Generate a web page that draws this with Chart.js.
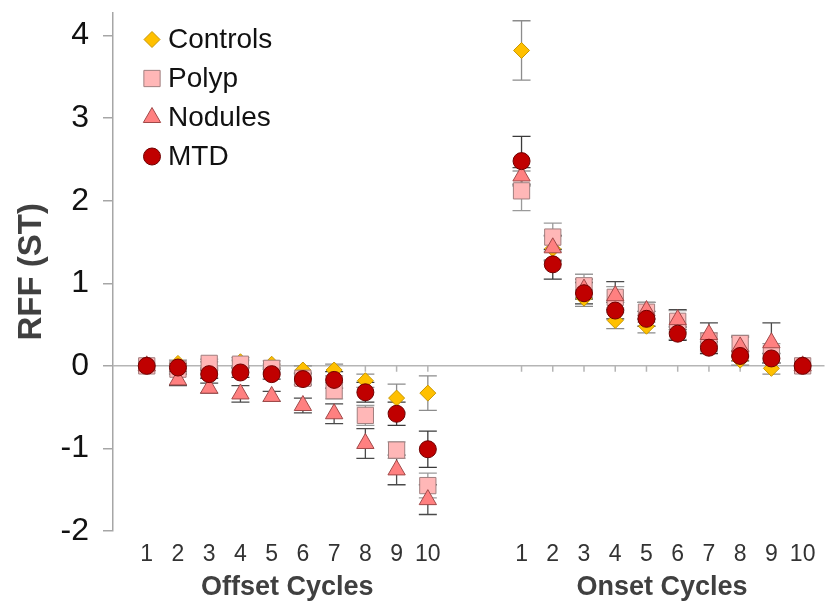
<!DOCTYPE html>
<html>
<head>
<meta charset="utf-8">
<script src="https://cdn.jsdelivr.net/npm/chart.js@4/dist/chart.umd.min.js"></script>
<style>
  html, body { margin: 0; padding: 0; background: #fff; }
  #wrap { width: 837px; height: 602px; }
</style>
</head>
<body>
<div id="wrap"><canvas id="jsRffCanvas" width="837" height="602"></canvas></div>
<script>
// cycle labels and x positions (onset block sits after a gap)
const cycleLabels = ["1", "2", "3", "4", "5", "6", "7", "8", "9", "10"];
const offsetX = [1, 2, 3, 4, 5, 6, 7, 8, 9, 10];
const onsetX = [13, 14, 15, 16, 17, 18, 19, 20, 21, 22];
const yTicks = [-2, -1, 0, 1, 2, 3, 4];

// mean RFF (ST), offset cycles then onset cycles
const controlsOffset = [0, 0.03, 0.01, 0.05, 0.02, -0.05, -0.05, -0.18, -0.39, -0.33];
const controlsOnset = [3.82, 1.42, 0.82, 0.55, 0.48, 0.4, 0.25, 0.07, -0.03, 0];
const polypOffset = [0, -0.04, 0.03, 0.02, -0.03, -0.15, -0.3, -0.6, -1.02, -1.45];
const polypOnset = [2.12, 1.56, 0.97, 0.83, 0.65, 0.54, 0.3, 0.27, 0.15, 0];
const nodulesOffset = [0, -0.17, -0.27, -0.34, -0.37, -0.48, -0.58, -0.94, -1.26, -1.62];
const nodulesOnset = [2.3, 1.43, 0.93, 0.85, 0.67, 0.56, 0.38, 0.23, 0.28, 0];
const mtdOffset = [0, -0.02, -0.1, -0.08, -0.1, -0.16, -0.17, -0.32, -0.58, -1.01];
const mtdOnset = [2.48, 1.23, 0.88, 0.67, 0.57, 0.39, 0.22, 0.12, 0.09, 0];

// error bar half-lengths
const controlsErrOffset = [0, 0.04, 0.04, 0.05, 0.04, 0.05, 0.07, 0.08, 0.17, 0.21];
const controlsErrOnset = [0.36, 0.15, 0.1, 0.1, 0.08, 0.08, 0.07, 0.06, 0.07, 0];
const polypErrOffset = [0, 0.05, 0.05, 0.05, 0.05, 0.07, 0.1, 0.12, 0.1, 0.15];
const polypErrOnset = [0.24, 0.17, 0.14, 0.13, 0.12, 0.13, 0.1, 0.1, 0.12, 0];
const nodulesErrOffset = [0, 0.07, 0.06, 0.1, 0.06, 0.09, 0.12, 0.18, 0.18, 0.18];
const nodulesErrOnset = [0.1, 0.15, 0.12, 0.17, 0.1, 0.12, 0.14, 0.12, 0.24, 0];
const mtdErrOffset = [0, 0.05, 0.05, 0.06, 0.06, 0.07, 0.1, 0.12, 0.14, 0.22];
const mtdErrOnset = [0.3, 0.18, 0.13, 0.1, 0.09, 0.08, 0.07, 0.06, 0.06, 0];

const tickPositions = offsetX.concat(onsetX);
const tickLabels = cycleLabels.concat(cycleLabels);

const toPoints = (off, on) =>
  offsetX.map((x, i) => ({ x, y: off[i] })).concat(onsetX.map((x, i) => ({ x, y: on[i] })));

const FONT = "'Liberation Sans', Arial, sans-serif";

// zero line with small ticks, plus the error bars (under the markers)
const zeroAndErrors = {
  id: "zeroAndErrors",
  beforeDatasetsDraw(chart) {
    const { ctx, chartArea, scales: { x, y } } = chart;
    const y0 = y.getPixelForValue(0);
    ctx.save();
    ctx.strokeStyle = "#b5b5b5";
    ctx.lineWidth = 1.5;
    ctx.beginPath();
    ctx.moveTo(chartArea.left, y0);
    ctx.lineTo(chartArea.right, y0);
    tickPositions.forEach((v) => {
      const px = x.getPixelForValue(v);
      ctx.moveTo(px, y0);
      ctx.lineTo(px, y0 + 6);
    });
    ctx.stroke();

    const sets = chart.data.datasets.map((ds, i) => ({ ds, i })).reverse();
    sets.forEach(({ ds }) => {
      ctx.strokeStyle = ds.errorColor;
      ctx.lineWidth = 1.3;
      ds.data.forEach((p, j) => {
        const e = ds.errors[j];
        if (!e) return;
        const px = x.getPixelForValue(p.x);
        const hi = y.getPixelForValue(p.y + e);
        const lo = y.getPixelForValue(p.y - e);
        ctx.beginPath();
        ctx.moveTo(px, hi);
        ctx.lineTo(px, lo);
        ctx.moveTo(px - 9, hi);
        ctx.lineTo(px + 9, hi);
        ctx.moveTo(px - 9, lo);
        ctx.lineTo(px + 9, lo);
        ctx.stroke();
      });
    });
    ctx.restore();
  },
  afterDraw(chart) {
    const { ctx, chartArea, scales: { x } } = chart;
    ctx.save();
    // group titles under the tick labels
    ctx.fillStyle = "#404040";
    ctx.font = "bold 27px " + FONT;
    ctx.textAlign = "center";
    ctx.textBaseline = "middle";
    ctx.fillText("Offset Cycles", x.getPixelForValue(5.5), 588);
    ctx.fillText("Onset Cycles", x.getPixelForValue(17.5), 588);

    // legend in the top-left corner of the plot
    chart.data.datasets.forEach((ds, i) => {
      const mx = chartArea.left + 39;
      const my = chartArea.top + 27 + i * 39;
      ctx.fillStyle = ds.backgroundColor;
      ctx.strokeStyle = ds.borderColor;
      ctx.lineWidth = 1;
      Chart.helpers.drawPoint(ctx, {
        pointStyle: ds.pointStyle,
        radius: ds.legendRadius,
        borderWidth: 1,
        rotation: 0,
      }, mx, my);
      ctx.fillStyle = "#111";
      ctx.font = "28px " + FONT;
      ctx.textAlign = "left";
      ctx.fillText(ds.label, chartArea.left + 55, my + 1);
    });
    ctx.restore();
  },
};

const rffChart = () => {
  const canvas = document.getElementById("jsRffCanvas").getContext("2d");

  new Chart(canvas, {
    type: "scatter",
    data: {
      datasets: [
        {
          label: "Controls",
          data: toPoints(controlsOffset, controlsOnset),
          errors: controlsErrOffset.concat(controlsErrOnset),
          errorColor: "#8c8c8c",
          pointStyle: "rectRot",
          pointRadius: 8,
          legendRadius: 8,
          backgroundColor: "#ffc000",
          borderColor: "#c89600",
          borderWidth: 1,
          order: 4,
        },
        {
          label: "Polyp",
          data: toPoints(polypOffset, polypOnset),
          errors: polypErrOffset.concat(polypErrOnset),
          errorColor: "#9a9a9a",
          pointStyle: "rect",
          pointRadius: 11.5,
          legendRadius: 11.5,
          backgroundColor: "#ffb7b7",
          borderColor: "#a07f7f",
          borderWidth: 1,
          order: 3,
        },
        {
          label: "Nodules",
          data: toPoints(nodulesOffset, nodulesOnset),
          errors: nodulesErrOffset.concat(nodulesErrOnset),
          errorColor: "#4a4a4a",
          pointStyle: "triangle",
          pointRadius: 10,
          legendRadius: 10,
          backgroundColor: "#ff8080",
          borderColor: "#a04848",
          borderWidth: 1,
          order: 2,
        },
        {
          label: "MTD",
          data: toPoints(mtdOffset, mtdOnset),
          errors: mtdErrOffset.concat(mtdErrOnset),
          errorColor: "#3a3a3a",
          pointStyle: "circle",
          pointRadius: 8.5,
          legendRadius: 8.5,
          backgroundColor: "#c00000",
          borderColor: "#700000",
          borderWidth: 1,
          order: 1,
        },
      ],
    },
    options: {
      responsive: false,
      animation: false,
      layout: { padding: { top: 10, right: 2, bottom: 0, left: 0 } },
      plugins: {
        legend: { display: false },
        tooltip: { enabled: false },
      },
      scales: {
        x: {
          type: "linear",
          min: -0.08,
          max: 22.7,
          afterFit: (scale) => {
            scale.height = 71;
            scale.paddingLeft = 0;
            scale.paddingRight = 0;
          },
          afterBuildTicks: (scale) => {
            scale.ticks = tickPositions.map((v) => ({ value: v }));
          },
          grid: { display: false, drawTicks: false },
          border: { display: false },
          ticks: {
            padding: 10,
            autoSkip: false,
            maxRotation: 0,
            color: "#333",
            font: { family: FONT, size: 23 },
            callback: (value) => {
              const k = tickPositions.indexOf(value);
              return k >= 0 ? tickLabels[k] : "";
            },
          },
        },
        y: {
          min: -2,
          max: 4.28,
          afterFit: (scale) => {
            scale.width = 113;
            scale.paddingTop = 0;
            scale.paddingBottom = 0;
          },
          afterBuildTicks: (scale) => {
            scale.ticks = yTicks.map((v) => ({ value: v }));
          },
          grid: {
            drawOnChartArea: false,
            tickLength: 10,
            color: "#a6a6a6",
            lineWidth: 1.5,
          },
          border: { color: "#a6a6a6", width: 1.5 },
          ticks: {
            padding: 14,
            color: "#111",
            font: { family: FONT, size: 32 },
          },
          title: {
            display: true,
            text: "RFF (ST)",
            color: "#404040",
            font: { family: FONT, size: 33, weight: "bold" },
            padding: { top: 12, bottom: 0 },
          },
        },
      },
    },
    plugins: [zeroAndErrors],
  });
};

window.addEventListener("DOMContentLoaded", () => {
  rffChart();
});
</script>
</body>
</html>
